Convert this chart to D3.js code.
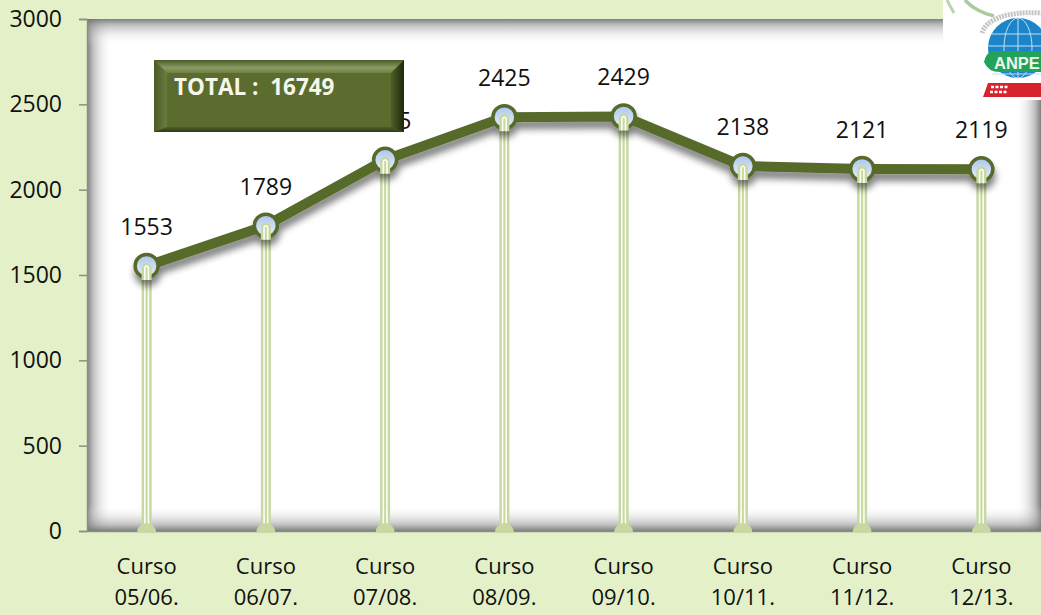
<!DOCTYPE html>
<html><head><meta charset="utf-8">
<script src="https://cdn.jsdelivr.net/npm/d3@7/dist/d3.min.js"></script>
<style>html,body{margin:0;padding:0;background:#e3f0c8;overflow:hidden}text{font-family:"Open Sans",sans-serif}</style>
</head><body><svg id="c" width="1041" height="615"></svg>
<script>
const categories=["05/06.","06/07.","07/08.","08/09.","09/10.","10/11.","11/12.","12/13."];
const categoryPrefix="Curso";
const values=[1553,1789,2175,2425,2429,2138,2121,2119];
const yTicks=[0,500,1000,1500,2000,2500,3000];
const totalLabel="TOTAL :  16749";

const svg=d3.select("#c");
const W=1041,H=615,L=87,T=19,B=531;
const x=d3.scaleBand().domain(categories).range([L,W]);
const cx=c=>x(c)+x.bandwidth()/2;
const y=d3.scaleLinear().domain([0,3000]).range([B,T]);
const defs=svg.append("defs");
function grad(id,x1,y1,x2,y2,stops){
  const g=defs.append("linearGradient").attr("id",id).attr("x1",x1).attr("y1",y1).attr("x2",x2).attr("y2",y2);
  stops.forEach(s=>g.append("stop").attr("offset",s[0]).attr("stop-color",s[1]).attr("stop-opacity",s[2]===undefined?1:s[2]));
}
const sh=[[0,"#707070",.9],[.25,"#909090",.55],[.6,"#c0c0c0",.25],[1,"#fff",0]];
grad("sL",0,0,1,0,sh);grad("sR",1,0,0,0,sh);grad("sT",0,0,0,1,sh);grad("sB",0,1,0,0,sh);
grad("marker",0,0,0,1,[[0,"#a9c5ee"],[.6,"#d0dff6"],[1,"#e6eefa"]]);
grad("bT",0,0,0,1,[[0,"#4a5c26"],[.6,"#8a9a62"],[1,"#6f8144"]]);
grad("bB",0,0,0,1,[[0,"#4c5e27"],[1,"#2f3b16"]]);
grad("bR",0,0,1,0,[[0,"#4d5f28"],[1,"#1f280c"]]);
grad("bL",0,0,1,0,[[0,"#4a5c26"],[1,"#6a7c40"]]);
const f=defs.append("filter").attr("id","ds").attr("x","-10%").attr("y","-30%").attr("width","120%").attr("height","180%");
f.append("feGaussianBlur").attr("in","SourceAlpha").attr("stdDeviation",3.5).attr("result","b");
f.append("feOffset").attr("in","b").attr("dx",1).attr("dy",7).attr("result","o");
f.append("feComponentTransfer").attr("in","o").attr("result","o2").append("feFuncA").attr("type","linear").attr("slope",.5);
const m=f.append("feMerge");m.append("feMergeNode").attr("in","o2");m.append("feMergeNode").attr("in","SourceGraphic");

// plot area with inner shadow
svg.append("rect").attr("x",L).attr("y",T).attr("width",W-L).attr("height",B-T).attr("fill","#fff");
const sw=26;
svg.append("rect").attr("x",L).attr("y",T).attr("width",sw).attr("height",B-T).attr("fill","url(#sL)");
svg.append("rect").attr("x",W-sw).attr("y",T).attr("width",sw).attr("height",B-T).attr("fill","url(#sR)");
svg.append("rect").attr("x",L).attr("y",T).attr("width",W-L).attr("height",sw).attr("fill","url(#sT)");
svg.append("rect").attr("x",L).attr("y",B-sw).attr("width",W-L).attr("height",sw).attr("fill","url(#sB)");

// y axis
const ya=svg.append("g").attr("transform",`translate(${L},0)`).call(d3.axisLeft(y).tickValues(yTicks).tickFormat(d3.format("d")).tickSize(8).tickPadding(12));
ya.select(".domain").attr("stroke","#8a8f80").attr("stroke-width",1.5);
ya.selectAll(".tick line").attr("stroke","#8a8f80").attr("stroke-width",1.5);
ya.selectAll("text").attr("font-size",23).attr("fill","#111").attr("x",-25).style("font-family","Open Sans");
// x axis line and labels
const xa=svg.append("g").attr("transform",`translate(0,${B})`).call(d3.axisBottom(x).tickSize(0).tickFormat(""));
xa.select(".domain").attr("stroke","#8a8f80").attr("stroke-width",1.5);
const lab=svg.append("g").selectAll("text").data(categories).join("text").attr("text-anchor","middle").attr("font-size",22).attr("fill","#111");
lab.append("tspan").attr("x",cx).attr("y",574).text(categoryPrefix);
lab.append("tspan").attr("x",cx).attr("y",605).text(d=>d);

// drop lines
const drops=svg.append("g").selectAll("g").data(values).join("g").attr("transform",(d,i)=>`translate(${cx(categories[i])},0)`);
drops.append("rect").attr("x",-5).attr("width",10).attr("y",d=>y(d)).attr("height",d=>B-y(d)).attr("fill","#c7d8a0");
drops.append("rect").attr("x",-2.6).attr("width",1.6).attr("y",d=>y(d)).attr("height",d=>B-y(d)).attr("fill","#fbfdf6");
drops.append("rect").attr("x",1).attr("width",1.6).attr("y",d=>y(d)).attr("height",d=>B-y(d)).attr("fill","#fbfdf6");
drops.append("path").attr("d",d3.arc()({innerRadius:0,outerRadius:9.5,startAngle:-Math.PI/2,endAngle:Math.PI/2})).attr("transform",`translate(0,${B+1.5})`).attr("fill","#c7d8a0");

// line
const ln=d3.line().x((d,i)=>cx(categories[i])).y(d=>y(d));
const lg=svg.append("g").attr("filter","url(#ds)");
lg.append("path").datum(values).attr("d",ln).attr("fill","none").attr("stroke","#566a2c").attr("stroke-width",10).attr("stroke-linejoin","round");
lg.selectAll("circle").data(values).join("circle").attr("cx",(d,i)=>cx(categories[i])).attr("cy",d=>y(d)).attr("r",11.5).attr("fill","url(#marker)").attr("stroke","#566a2c").attr("stroke-width",3.5);
// stem tips over markers
const tips=svg.append("g").selectAll("g").data(values).join("g").attr("transform",(d,i)=>`translate(${cx(categories[i])},${y(d)})`);
tips.append("path").attr("d","M-5,14V2a5,5 0 0 1 10,0V14Z").attr("fill","#c7d8a0");
tips.append("path").attr("d","M-1.8,14V2a1.8,1.8 0 0 1 3.6,0V14").attr("fill","none").attr("stroke","#fbfdf6").attr("stroke-width",1.6);

// value labels
svg.append("g").selectAll("text").data(values).join("text").attr("x",(d,i)=>cx(categories[i])).attr("y",d=>y(d)-31).attr("text-anchor","middle").attr("font-size",23).attr("fill","#111").text(d=>d);

// total box
const bx=154,by=60,bw=250,bh=72,bev=13;
const box=svg.append("g");
box.append("rect").attr("x",bx).attr("y",by).attr("width",bw).attr("height",bh).attr("fill","#5b6c2e");
box.append("polygon").attr("points",`${bx},${by} ${bx+bw},${by} ${bx+bw-bev},${by+bev} ${bx+bev},${by+bev}`).attr("fill","url(#bT)");
box.append("polygon").attr("points",`${bx},${by} ${bx+bev},${by+bev} ${bx+bev},${by+bh-5} ${bx},${by+bh}`).attr("fill","url(#bL)");
box.append("polygon").attr("points",`${bx+bw},${by} ${bx+bw-bev},${by+bev} ${bx+bw-bev},${by+bh-5} ${bx+bw},${by+bh}`).attr("fill","url(#bR)");
box.append("polygon").attr("points",`${bx},${by+bh} ${bx+bev},${by+bh-5} ${bx+bw-bev},${by+bh-5} ${bx+bw},${by+bh}`).attr("fill","url(#bB)");
box.append("text").attr("x",174).attr("y",95).attr("font-size",22.5).attr("font-weight",700).attr("fill","#f4f7ea").style("white-space","pre").text(totalLabel);

// logo
const lo=svg.append("g");
lo.append("rect").attr("x",943).attr("y",0).attr("width",98).attr("height",100).attr("fill","#fff");
lo.append("path").attr("d","M965,0C972,8 984,14 994,16").attr("fill","none").attr("stroke","#a9cc9c").attr("stroke-width",3.5);
lo.append("path").attr("d","M947,0C949,4 951,8 954,13").attr("fill","none").attr("stroke","#b9d6ab").attr("stroke-width",3);
lo.append("path").attr("d","M982,33C986,20 1005,11 1041,13").attr("fill","none").attr("stroke","#c4c4c4").attr("stroke-width",5).attr("stroke-dasharray","2 1");
lo.append("circle").attr("cx",1018).attr("cy",48).attr("r",30).attr("fill","#1c85c9");
const gl=lo.append("g").attr("fill","none").attr("stroke","#bfe0f2").attr("stroke-width",1);
gl.append("ellipse").attr("cx",1018).attr("cy",48).attr("rx",14).attr("ry",30);
gl.append("path").attr("d","M1018,18V78M992,34H1041M988,46H1041M992,74H1041");
lo.append("path").attr("d","M984,62Q986,53 992,51H1041V72H1000Q988,72 984,62Z").attr("fill","#23a35a");
lo.append("text").attr("x",994).attr("y",69).attr("font-size",16.5).attr("font-weight",700).attr("fill","#eef7ee").style("font-family","Liberation Sans").text("ANPE");
lo.append("path").attr("d","M988,83H1041V97H983Z").attr("fill","#d8232f");
lo.append("path").attr("d","M991,87H1009M990,92H1008").attr("stroke","#fff").attr("stroke-width",2.5).attr("stroke-dasharray","3 1.5");
</script></body></html>
